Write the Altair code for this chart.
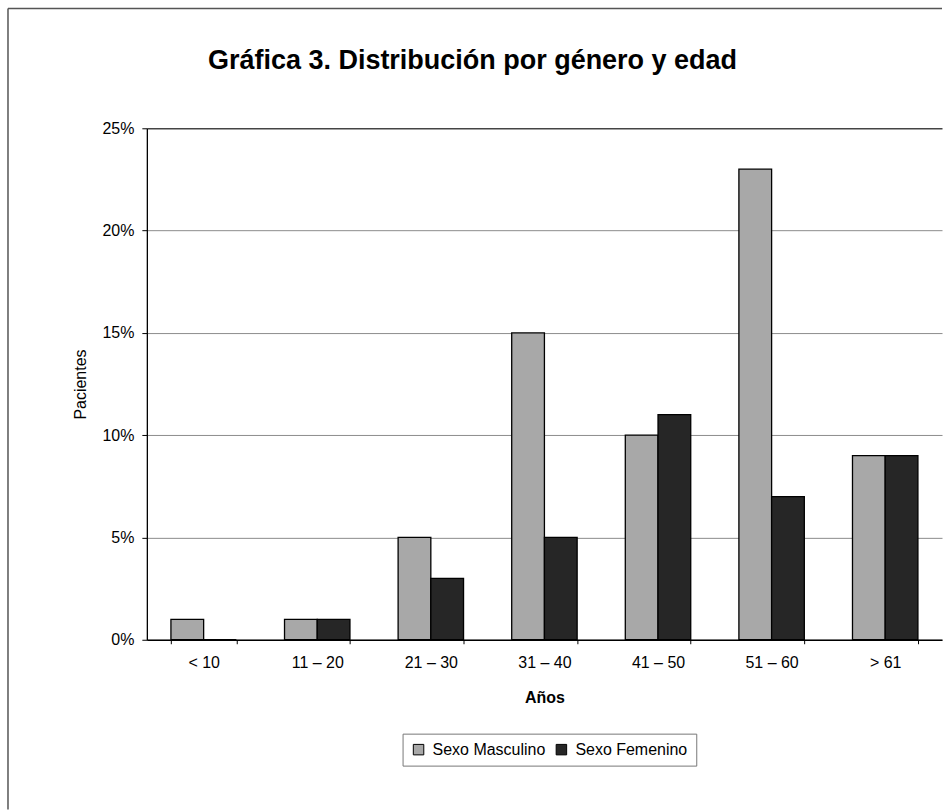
import altair as alt
import pandas as pd

# Age groups and share of patients (percent) by sex
edades = ["< 10", "11 – 20", "21 – 30", "31 – 40", "41 – 50", "51 – 60", "> 61"]
masculino = [1, 1, 5, 15, 10, 23, 9]
femenino = [0, 1, 3, 5, 11, 7, 9]
series = ["Sexo Masculino", "Sexo Femenino"]
colores = ["#a8a8a8", "#262626"]
titulo = "Gráfica 3. Distribución por género y edad"

FONT = "Liberation Sans, Arial, sans-serif"

rows = []
for e, m, f in zip(edades, masculino, femenino):
    rows.append({"edad": e, "sexo": series[0], "valor": m / 100})
    rows.append({"edad": e, "sexo": series[1], "valor": f / 100})
df = pd.DataFrame(rows)

W, H = 796, 512

# Left and top edges of the outer frame
frame_src = pd.DataFrame({"k": [0]})
frame_left = alt.Chart(frame_src).mark_rule(color="#555555", strokeWidth=1.5).encode(
    x=alt.value(-139), y=alt.value(-120), y2=alt.value(682)
)
frame_top = alt.Chart(frame_src).mark_rule(color="#555555", strokeWidth=1.5).encode(
    x=alt.value(-139), x2=alt.value(W), y=alt.value(-120)
)

# Figure heading
heading = alt.Chart(pd.DataFrame({"t": [titulo]})).mark_text(
    font=FONT, fontSize=27, fontWeight="bold", color="black",
    align="center", baseline="alphabetic",
).encode(
    text="t:N", x=alt.value(326), y=alt.value(-59)
)

bars = alt.Chart(df).mark_bar(stroke="black", strokeWidth=1.3).encode(
    x=alt.X(
        "edad:N", sort=edades,
        scale=alt.Scale(paddingInner=0.424, paddingOuter=0.212),
        axis=alt.Axis(
            title="Años", labelAngle=0, tickBand="extent", tickSize=4,
            labelPadding=11, titlePadding=19, titleFontWeight="bold",
        ),
    ),
    xOffset=alt.XOffset("sexo:N", sort=series,
                        scale=alt.Scale(paddingInner=0, paddingOuter=0)),
    y=alt.Y(
        "valor:Q",
        scale=alt.Scale(domain=[0, 0.25], nice=False),
        axis=alt.Axis(
            title="Pacientes", format=".0%", values=[0, 0.05, 0.1, 0.15, 0.2, 0.25],
            tickSize=5, labelPadding=8, titlePadding=13, grid=True,
            titleFontWeight="normal",
            gridColor=alt.condition("datum.value >= 0.25", alt.value("#444444"),
                                    alt.value("#8c8c8c")),
            gridWidth=alt.condition("datum.value >= 0.25", alt.value(1.5),
                                    alt.value(1)),
        ),
    ),
    color=alt.Color(
        "sexo:N", sort=series,
        scale=alt.Scale(domain=series, range=colores),
        legend=alt.Legend(
            orient="none", legendX=256, legendY=606,
            direction="horizontal", title=None,
            strokeColor="#777777", padding=8, symbolType="square",
            symbolSize=110, symbolStrokeColor="black", symbolStrokeWidth=1,
            labelFontSize=16, labelFont=FONT, labelColor="black",
            columnPadding=8, labelOffset=6,
        ),
    ),
)

chart = alt.layer(frame_left, frame_top, heading, bars).properties(
    width=W, height=H,
    padding={"left": 7, "top": 7, "right": 0, "bottom": 0},
).configure_view(
    stroke=None
).configure_axis(
    labelFont=FONT, titleFont=FONT, labelFontSize=16, titleFontSize=16,
    labelColor="black", titleColor="black", domainColor="black",
    tickColor="black", domainWidth=1.3,
).configure_axisX(
    grid=False
)

chart.save("out.html", embed_options={"renderer": "svg", "actions": False})
